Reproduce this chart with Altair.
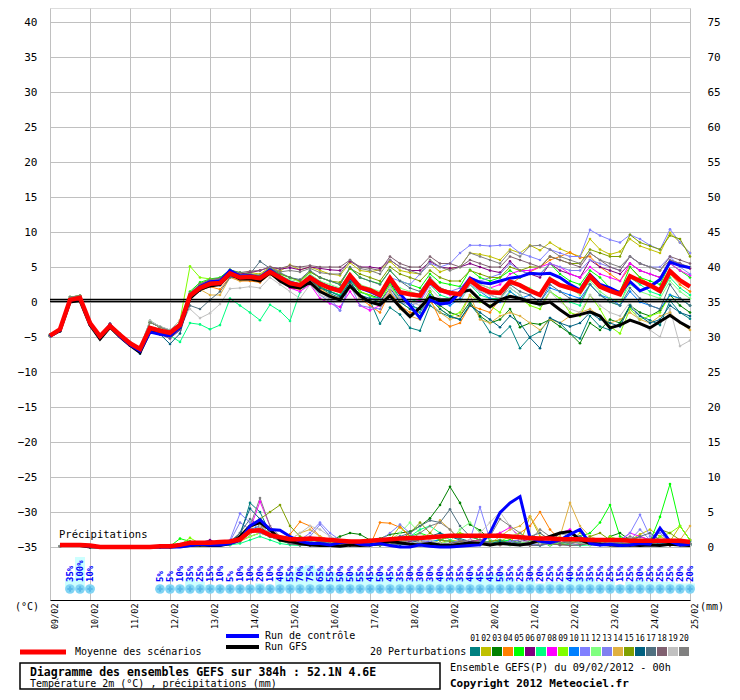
import altair as alt
import pandas as pd

FONT = "DejaVu Sans Mono"

days = ["09/02", "10/02", "11/02", "12/02", "13/02", "14/02", "15/02", "16/02", "17/02",
        "18/02", "19/02", "20/02", "21/02", "22/02", "23/02", "24/02", "25/02"]

members = ["01", "02", "03", "04", "05", "06", "07", "08", "09", "10",
           "11", "12", "13", "14", "15", "16", "17", "18", "19", "20"]
member_colors = ["#008080", "#c0c000", "#008000", "#ff8000", "#00ff00", "#800080", "#00ff80",
                 "#ff00ff", "#80ff00", "#0080ff", "#8080ff", "#80ff80", "#8080f0", "#e0b040",
                 "#80a000", "#006080", "#507080", "#806070", "#c0c0c0", "#808080"]

# ---- 2 m temperature (deg C), 6-hourly, steps 0..64 ----
MEAN_T = [-4.8, -3.9, 0.3, 0.6, -3.0, -4.9, -3.4, -4.7, -5.9, -6.7, -3.7, -4.1, -4.4, -3.3,
          0.9, 2.0, 2.6, 2.7, 4.1, 3.5, 3.6, 3.4, 4.3, 3.5, 2.7, 2.4, 3.5, 2.6, 2.0, 1.6,
          3.8, 2.1, 1.7, 1.0, 3.4, 1.4, 1.1, 0.9, 3.0, 1.7, 1.3, 1.1, 3.1, 2.0, 1.4, 1.3,
          2.9, 2.4, 1.6, 1.0, 3.2, 2.4, 2.0, 1.5, 3.7, 2.2, 1.6, 1.1, 3.7, 3.0, 2.4, 1.6,
          4.4, 3.1, 2.2]
CTRL_T = [-4.9, -4.0, 0.3, 0.5, -3.1, -5.0, -3.3, -4.9, -6.1, -7.0, -4.3, -4.6, -4.8, -3.6,
          0.8, 2.2, 2.9, 3.0, 4.5, 3.7, 3.8, 3.5, 4.6, 3.6, 2.8, 2.4, 3.6, 2.7, 2.1, 1.7,
          3.5, 2.0, 1.5, 0.8, 3.2, 1.2, -0.5, -2.3, 0.3, -0.3, -0.1, 1.4, 3.4, 2.8, 2.6, 3.0,
          3.4, 3.6, 4.1, 4.0, 4.1, 3.5, 2.5, 1.7, 3.9, 2.5, 2.0, 1.3, 2.9, 1.6, 2.2, 3.2,
          5.7, 5.2, 4.9]
GFS_T = [-4.9, -4.1, 0.0, 0.2, -3.3, -5.3, -3.6, -5.0, -6.2, -7.2, -4.2, -4.5, -4.8, -3.6,
         0.5, 1.8, 2.3, 2.5, 4.0, 3.3, 3.3, 3.0, 4.2, 3.0, 2.2, 2.0, 2.8, 1.5, 0.8, 0.3,
         2.3, 0.9, 0.0, -0.4, 0.9, -0.7, -2.1, -0.8, 0.7, 0.3, 0.3, 1.4, 1.7, 0.3, -0.7, 0.3,
         0.8, 0.5, 0.0, -0.3, 0.0, -1.1, -2.1, -1.8, -1.4, -2.0, -3.7, -3.3, -2.6, -3.1, -3.7, -2.8,
         -1.9, -2.9, -3.7]

T01 = [-4.8, -4.0, 0.4, 0.6, -3.0, -5.0, -3.3, -4.8, -6.0, -6.8, -3.6, -4.0, -4.4, -3.3,
       1.2, 2.4, 3.0, 3.1, 4.4, 3.8, 3.7, 3.2, 4.5, 3.6, 2.2, 1.9, 3.2, 2.0, 1.2, 0.6,
       3.0, 0.9, 0.2, -3.1, -0.8, -1.8, -3.7, -4.1, -0.5, -1.5, -2.1, -2.5, -0.3, -2.1, -4.3, -4.9,
       -3.5, -6.6, -5.0, -4.2, -2.3, -3.0, -4.5, -5.2, -2.0, -3.5, -4.0, -3.0, -0.8, -2.0, -2.6, -3.3,
       0.2, -1.5, -2.4]
T02 = [-4.9, -4.1, 0.7, 0.9, -3.1, -4.8, -3.2, -4.6, -5.8, -6.6, -2.9, -3.6, -4.1, -3.0,
       1.0, 2.6, 3.2, 3.4, 4.6, 4.0, 4.2, 4.0, 5.0, 4.4, 5.3, 4.6, 5.0, 4.5, 4.0, 3.8,
       5.6, 4.5, 4.3, 4.6, 5.8, 4.5, 4.2, 4.0, 5.5, 4.3, 4.8, 5.0, 7.0, 6.8, 6.5, 6.0,
       7.5, 7.0, 8.1, 7.4, 8.5, 7.6, 7.0, 6.5, 9.0, 7.5, 6.8, 7.2, 9.0, 8.0, 7.5, 7.0,
       9.9, 8.5, 7.0]
T03 = [-4.7, -3.9, 0.2, 0.4, -2.9, -5.1, -3.5, -4.9, -6.1, -7.0, -4.0, -4.3, -4.8, -3.6,
       0.8, 1.8, 2.4, 2.6, 4.0, 3.3, 3.4, 3.1, 4.0, 3.2, 2.3, 2.0, 3.3, 2.2, 1.5, 1.0,
       3.2, 1.4, 1.0, 0.5, 2.8, 0.5, -0.5, -1.0, 1.5, -0.5, -1.5, -2.0, 0.0, -2.0, -3.0, -2.5,
       -1.0, -3.6, -3.0, -3.2, -2.5, -3.5, -4.5, -5.9, -3.0, -4.0, -2.5, -3.0, -0.5, -1.5, -2.0, -1.2,
       1.0, -0.5, -1.5]
T04 = [-4.8, -4.2, 0.0, 0.7, -3.3, -5.2, -3.1, -4.7, -6.2, -7.2, -4.2, -4.6, -5.0, -4.0,
       0.6, 1.6, 2.2, 1.8, 3.6, 3.0, 3.0, 2.8, 3.9, 3.0, 2.0, 1.8, 3.0, 1.8, 0.8, 0.3,
       2.5, 0.5, -0.5, -1.5, 1.5, -0.5, -1.5, -1.5, 0.5, -2.5, -3.5, -3.0, -0.5, -1.0, -1.5, 0.5,
       2.5, 3.5, 4.3, 5.0, 6.0, 6.5, 7.1, 6.3, 6.5, 5.0, 4.0, 3.0, 5.0, 3.5, 2.5, 1.5,
       4.0, 2.5, 1.5]
T05 = [-4.9, -4.1, 0.7, 0.9, -3.1, -4.8, -3.2, -4.6, -5.8, -6.6, -2.9, -3.6, -4.1, -3.0,
       1.5, 2.8, 3.3, 3.5, 4.6, 4.2, 4.0, 3.8, 4.8, 4.0, 3.5, 3.0, 4.3, 3.5, 3.0, 2.5,
       4.8, 3.5, 3.0, 2.6, 4.5, 3.0, 2.5, 2.0, 4.0, 2.8, 2.5, 2.2, 4.6, 3.5, 3.0, 3.5,
       4.5, 3.5, 4.0, 4.0, 5.5, 4.0, 3.0, 2.5, 4.5, 3.5, 2.0, 1.5, 5.0, 3.5, 3.0, 2.5,
       5.5, 4.5, 3.5]
T06 = [-4.8, -4.0, 0.4, 0.6, -3.0, -5.0, -3.3, -4.8, -6.0, -6.8, -3.6, -4.0, -4.4, -3.3,
       1.2, 2.5, 3.0, 3.2, 4.3, 4.0, 4.2, 4.5, 5.0, 4.7, 4.9, 4.6, 5.0, 4.8, 4.6, 4.5,
       5.8, 5.0, 5.0, 4.8, 6.0, 5.0, 4.5, 4.5, 5.8, 5.0, 4.8, 5.0, 5.5, 5.0, 4.5, 4.2,
       5.8, 4.5, 4.0, 3.5, 5.5, 4.5, 4.0, 3.5, 6.0, 5.0, 4.5, 4.0, 5.5, 4.5, 4.0, 3.5,
       6.0, 5.5, 4.8]
T07 = [-4.7, -3.9, 0.2, 0.4, -2.9, -5.1, -3.5, -4.9, -6.1, -7.0, -4.0, -4.3, -4.8, -5.7,
       -3.0, -3.2, -3.9, -3.3, 0.5, -0.5, -1.5, -2.6, -0.4, -1.3, -2.7, 1.4, 3.0, 2.0, 1.5, 1.0,
       3.2, 1.5, 0.8, 0.5, 2.5, 0.5, 0.0, 0.5, 2.5, 1.0, 0.5, 0.0, 2.5, 1.0, 0.5, 0.5,
       2.0, 1.0, 0.0, -0.5, 1.5, 0.5, 0.0, -0.5, 2.5, 1.0, 0.0, -0.5, 3.5, 2.5, 1.5, 1.0,
       3.5, 2.0, 1.0]
T08 = [-4.8, -4.2, 0.0, 0.7, -3.3, -5.2, -3.1, -4.7, -6.2, -7.2, -4.2, -4.6, -5.2, -4.0,
       0.7, 1.8, 2.5, 2.5, 3.8, 3.2, 3.2, 3.0, 4.0, 3.0, 2.0, 1.5, 2.5, 0.5, -0.2, -0.7,
       1.5, -0.5, -1.2, -0.5, 2.0, 0.5, 0.0, 0.2, 2.5, 1.5, 1.0, 1.2, 3.0, 2.5, 2.0, 2.5,
       4.0, 4.5, 4.5, 5.0, 5.5, 5.0, 4.0, 3.5, 5.0, 4.0, 3.5, 3.0, 5.5, 4.5, 4.0, 3.5,
       5.5, 4.5, 3.8]
T09 = [-4.9, -3.8, 0.5, 0.5, -2.8, -4.9, -3.4, -4.5, -5.7, -6.5, -2.7, -3.5, -4.0, -2.6,
       5.1, 3.5, 3.3, 3.0, 4.2, 3.6, 3.8, 3.5, 4.4, 3.6, 2.8, 2.5, 3.6, 2.5, 2.0, 1.5,
       3.5, 1.5, 1.0, 0.0, 2.5, 0.0, -1.0, -1.5, 1.5, -1.0, -2.0, -1.5, 1.0, 0.0, -0.5, -1.5,
       1.5, 0.5, -0.5, -1.0, 1.5, 0.5, -1.5, -2.0, 1.0, -1.0, -3.5, -4.5, -1.0, -2.5, -2.0, -1.5,
       1.0, 0.5, -0.5]
T10 = [-4.7, -3.9, 0.2, 0.4, -2.9, -5.1, -3.5, -4.9, -6.1, -7.0, -4.0, -4.3, -4.8, -3.6,
       1.0, 2.2, 2.8, 2.9, 4.2, 3.6, 3.7, 3.5, 4.5, 3.7, 3.0, 2.6, 3.8, 2.8, 2.2, 1.8,
       4.0, 2.2, 1.5, 1.0, 3.5, 1.0, 0.0, -1.5, 1.0, 0.0, -0.5, 0.5, 2.5, 1.5, 0.5, 0.0,
       1.5, 0.5, 1.0, 0.0, 2.0, 1.5, 1.0, 0.5, 2.5, 1.0, 0.5, -0.5, 1.5, 0.0, -0.5, -1.0,
       1.0, 0.5, -0.5]
T11 = [-4.9, -4.1, 0.7, 0.9, -3.1, -4.8, -3.2, -4.6, -5.8, -6.6, -2.9, -3.6, -4.1, -3.0,
       0.9, 2.0, 2.7, 2.8, 4.0, 3.4, 3.5, 3.2, 4.2, 3.4, 2.3, 2.0, 3.0, 1.0, 0.0, -1.2,
       2.5, 0.8, 0.5, 0.5, 3.5, 3.0, 2.5, 4.0, 5.5, 5.0, 5.5, 7.0, 8.1, 8.1, 8.0, 8.1,
       8.1, 7.0, 6.5, 6.0, 7.5, 7.0, 6.5, 6.5, 10.3, 9.5, 8.9, 8.5, 9.6, 9.0, 8.1, 7.5,
       10.4, 8.5, 7.0]
T12 = [-4.8, -4.0, 0.4, 0.6, -3.0, -5.0, -3.3, -4.8, -6.0, -6.8, -3.6, -4.0, -4.4, -3.3,
       1.1, 2.2, 2.9, 3.0, 4.2, 3.6, 3.8, 3.6, 4.5, 3.8, 3.2, 2.9, 4.0, 3.0, 2.5, 2.0,
       4.0, 2.5, 2.0, 1.5, 3.5, 2.0, 1.5, 1.0, 3.0, 2.0, 1.5, 1.0, 3.0, 2.5, 2.0, 1.5,
       3.0, 2.5, 2.0, 1.0, 3.5, 2.5, 2.0, 1.0, 3.0, 1.5, 0.5, 0.0, 2.5, 1.5, 1.0, 0.5,
       3.0, 1.5, 0.5]
T13 = [-4.9, -3.8, 0.5, 0.5, -2.8, -4.9, -3.4, -4.5, -5.7, -6.5, -2.7, -3.5, -4.0, -3.0,
       0.8, 2.0, 2.6, 2.7, 4.1, 3.5, 3.5, 3.3, 4.3, 3.4, 2.4, 2.0, 3.3, 1.5, 0.5, -1.2,
       2.5, -0.5, -0.8, -1.0, 1.5, 0.0, -0.5, 0.0, 2.5, 1.5, 1.5, 2.0, 3.5, 3.0, 3.5, 4.0,
       5.5, 4.5, 4.0, 4.0, 5.5, 5.0, 4.5, 4.5, 6.0, 5.5, 5.0, 4.5, 6.5, 5.5, 5.0, 5.0,
       6.5, 5.0, 4.0]
T14 = [-4.7, -3.9, 0.2, 0.4, -2.9, -5.1, -3.5, -4.9, -6.1, -7.0, -4.0, -4.3, -4.8, -3.6,
       0.7, 1.8, 1.0, 1.0, 3.5, 3.0, 3.2, 3.0, 4.0, 3.2, 2.4, 2.0, 3.0, 2.0, 1.0, 0.5,
       2.5, 0.5, 0.0, -0.5, 1.5, -1.0, -2.0, -2.5, 0.0, -1.5, -2.5, -2.0, 1.0, -2.5, -3.0, -2.0,
       -1.5, -2.0, -3.0, -4.0, -2.5, -3.0, -2.0, -1.5, -1.0, -2.0, -3.0, -2.5, -1.5, -2.5, -3.0, -2.0,
       -1.5, -3.0, -4.0]
T15 = [-4.9, -4.1, 0.7, 0.9, -3.1, -4.8, -3.2, -4.6, -5.8, -6.6, -2.9, -3.6, -4.1, -3.0,
       1.0, 2.3, 2.9, 3.0, 4.3, 3.7, 3.8, 3.6, 4.7, 4.0, 3.5, 3.0, 4.3, 3.5, 3.0, 2.8,
       4.8, 4.0, 3.5, 3.0, 5.0, 4.0, 3.5, 3.0, 4.5, 3.5, 3.0, 3.0, 4.5, 4.0, 3.5, 3.5,
       5.0, 4.5, 5.0, 5.0, 6.5, 6.0, 5.5, 5.5, 7.5, 7.0, 6.5, 6.5, 9.6, 8.5, 8.0, 7.5,
       9.5, 9.0, 6.5]
T16 = [-4.8, -4.2, 0.0, 0.7, -3.3, -5.2, -3.1, -4.7, -6.2, -7.4, -4.2, -4.6, -6.0, -4.5,
       0.5, 1.6, 2.3, 2.4, 3.8, 3.3, 3.3, 3.0, 4.0, 3.2, 2.5, 2.0, 3.2, 2.0, 1.5, 0.8,
       2.8, 1.0, 0.5, 0.0, 2.0, 0.0, -1.0, -2.0, 0.5, -1.0, -2.0, -2.5, -0.5, -1.5, -2.5, -3.6,
       -2.0, -3.0, -5.1, -6.6, -2.3, -3.0, -3.5, -3.0, -1.5, -2.5, -3.0, -3.5, -0.5, -2.0, -3.0, -2.5,
       -0.5, -1.5, -2.0]
T17 = [-4.8, -4.2, 0.0, 0.7, -3.3, -5.2, -3.1, -4.7, -6.2, -7.2, -4.2, -4.6, -5.2, -4.0,
       -0.5, -1.0, 0.3, 1.5, 3.5, 3.5, 4.0, 5.8, 4.8, 4.2, 3.5, 3.2, 4.5, 3.5, 3.0, 2.5,
       5.0, 3.5, 3.0, 2.5, 4.5, 3.0, 2.0, 1.5, 3.5, 2.0, 1.5, 1.0, 3.0, 2.0, 1.0, 0.5,
       2.5, 1.5, 1.0, 0.0, 2.5, 1.5, 0.5, 0.0, 2.5, 1.0, 0.0, -0.5, 2.0, 0.5, -0.5, -1.0,
       2.5, 0.5, -0.5]
T18 = [-4.8, -4.0, 0.4, 0.6, -3.0, -5.0, -3.3, -4.8, -6.0, -6.8, -3.6, -4.0, -4.4, -3.3,
       1.3, 2.6, 3.2, 3.4, 4.5, 4.2, 4.4, 4.5, 5.0, 4.8, 5.2, 5.0, 5.2, 5.0, 5.0, 5.0,
       6.0, 5.0, 4.8, 4.5, 6.5, 5.5, 5.0, 5.0, 6.5, 5.5, 5.5, 5.0, 6.0, 5.5, 5.0, 5.0,
       6.5, 6.0, 5.5, 5.0, 6.5, 6.0, 5.5, 5.0, 7.0, 6.0, 5.0, 4.5, 6.5, 5.5, 5.0, 4.5,
       6.5, 6.0, 5.5]
T19 = [-4.9, -3.8, 0.5, 0.5, -2.8, -4.9, -3.4, -4.5, -5.7, -6.5, -2.7, -3.5, -4.0, -2.6,
       -1.0, -2.3, -1.6, -0.3, 1.9, 2.0, 2.2, 2.0, 3.5, 2.5, 1.5, 0.5, 2.5, 1.0, 0.5, 0.2,
       2.0, 0.5, 0.0, -0.5, 2.0, 0.5, 0.0, -0.5, 2.0, 0.5, 0.5, 0.0, 2.5, 1.5, 1.0, 0.5,
       2.0, 1.0, 0.0, -0.5, 1.5, 0.0, -1.0, -1.5, 1.0, -0.5, -1.5, -2.0, 0.0, -3.0, -4.0, -5.0,
       -1.0, -6.3, -5.5]
T20 = [-4.9, -4.1, 0.7, 0.9, -3.1, -4.8, -3.2, -4.6, -5.8, -6.6, -2.9, -3.6, -4.1, -3.0,
       1.2, 2.5, 3.1, 3.2, 4.4, 3.9, 4.0, 3.8, 4.9, 4.3, 4.5, 4.3, 4.8, 4.2, 4.0, 4.0,
       6.0, 4.8, 4.5, 4.0, 6.0, 5.0, 4.5, 4.0, 6.0, 5.0, 4.5, 5.0, 7.0, 6.5, 6.0, 5.5,
       7.2, 6.5, 8.0, 8.1, 7.5, 6.5, 6.0, 5.5, 7.0, 6.0, 5.5, 5.0, 6.5, 5.5, 5.0, 4.5,
       6.0, 5.5, 5.0]

# ---- precipitation (mm), steps 1..64 ----
MEAN_P = [0.3, 0.3, 0.3, 0.2, 0.0, 0.0, 0.0, 0.0, 0.0, 0.0, 0.1, 0.1, 0.3, 0.6, 0.6, 0.6,
          0.7, 0.8, 1.1, 2.3, 2.4, 1.7, 1.4, 1.1, 1.1, 1.2, 1.1, 1.0, 0.9, 0.8, 0.8, 0.9,
          1.0, 1.1, 1.2, 1.3, 1.3, 1.4, 1.5, 1.6, 1.6, 1.6, 1.6, 1.6, 1.6, 1.5, 1.4, 1.3,
          1.2, 1.2, 1.1, 1.1, 1.1, 1.0, 1.0, 1.0, 1.0, 0.9, 0.9, 0.9, 0.9, 0.9, 0.9, 0.7]
CTRL_P = [0.3, 0.3, 0.3, 0.1, 0, 0, 0, 0, 0, 0, 0, 0, 0, 0.2, 0.4, 0.3,
          0.3, 0.5, 1.0, 3.0, 3.9, 2.5, 2.4, 1.5, 0.8, 0.5, 0.5, 0.3, 0.6, 0.8, 0.4, 0.3,
          0.5, 0.2, 0.0, 0.0, 0.3, 0.1, 0.0, 0.0, 0.1, 0.2, 0.3, 2.0, 4.9, 6.3, 7.2, 1.3,
          0.8, 0.6, 1.0, 1.8, 2.5, 0.5, 0.3, 0.4, 0.2, 0.3, 0.5, 0.4, 2.7, 0.8, 0.3, 0.4]
GFS_P = [0.2, 0.3, 0.2, 0.0, 0, 0, 0, 0, 0, 0, 0, 0, 0.1, 0.2, 0.3, 0.2,
         0.2, 0.5, 1.5, 3.0, 3.5, 2.5, 1.0, 0.8, 0.5, 0.3, 0.2, 0.2, 0.1, 0.3, 0.2, 0.3,
         0.5, 0.8, 0.6, 0.4, 0.3, 0.5, 0.3, 0.2, 0.4, 0.6, 0.5, 0.3, 0.5, 0.4, 0.3, 0.5,
         1.0, 1.5, 2.0, 2.2, 1.0, 0.5, 0.4, 0.3, 0.2, 0.3, 0.2, 0.3, 0.2, 0.4, 0.3, 0.2]

P01 = [0.1, 0.3, 0.2, 0, 0, 0, 0, 0, 0, 0, 0, 0.1, 0.2, 0.3, 0.4, 0.3,
       0.2, 0.6, 1.5, 6.3, 5.0, 2.0, 1.0, 0.6, 0.5, 0.3, 0.4, 0.2, 0.5, 0.8, 0.5, 0.3,
       0.2, 0.5, 0.8, 0.5, 0.3, 0.6, 1.0, 1.5, 1.2, 0.8, 0.5, 0.3, 0.5, 0.8, 0.5, 0.3,
       0.2, 0.5, 1.0, 1.8, 1.5, 0.8, 0.5, 0.3, 0.5, 1.0, 1.5, 1.0, 0.5, 0.3, 0.5, 0.8]
P02 = [0.1, 0.2, 0.3, 0, 0, 0, 0, 0, 0, 0, 0, 0, 0.2, 0.3, 0.5, 0.4,
       0.3, 0.5, 1.0, 2.5, 4.0, 2.0, 1.5, 0.8, 0.6, 0.4, 0.3, 0.5, 0.8, 0.5, 0.3, 0.2,
       0.5, 1.0, 3.0, 1.5, 0.8, 0.5, 0.6, 1.0, 0.8, 0.5, 1.0, 1.5, 2.0, 1.0, 0.5, 4.4,
       1.5, 1.0, 0.5, 0.8, 2.0, 1.0, 0.5, 0.3, 0.5, 1.0, 1.8, 2.5, 1.5, 0.8, 3.0, 1.0]
P03 = [0.1, 0.2, 0.2, 0, 0, 0, 0, 0, 0, 0, 0, 0.1, 0.1, 0.2, 0.3, 0.4,
       0.3, 0.5, 1.0, 2.0, 3.0, 1.5, 1.0, 0.5, 0.4, 0.3, 0.5, 1.0, 1.5, 2.0, 1.8, 1.0,
       1.2, 1.8, 2.0, 2.2, 3.0, 4.1, 6.0, 8.6, 6.3, 3.2, 2.4, 1.0, 0.5, 0.3, 0.5, 0.8,
       0.5, 0.3, 0.5, 1.0, 0.8, 0.5, 0.3, 1.5, 2.0, 1.0, 0.5, 0.8, 0.5, 0.3, 0.5, 0.4]
P04 = [0.1, 0.3, 0.2, 0, 0, 0, 0, 0, 0, 0, 0, 0, 0.1, 0.2, 0.3, 0.5,
       0.4, 0.3, 0.8, 1.5, 2.0, 1.5, 1.0, 1.8, 3.6, 3.0, 1.5, 1.0, 0.5, 0.3, 0.3, 0.2,
       3.5, 3.4, 2.8, 1.5, 0.8, 0.5, 0.5, 0.3, 0.5, 0.8, 1.0, 0.5, 0.3, 0.8, 2.0, 3.0,
       5.0, 2.5, 1.0, 0.5, 0.3, 0.5, 0.8, 0.5, 0.3, 0.5, 0.8, 0.5, 0.3, 0.2, 0.5, 0.3]
P05 = [0.1, 0.2, 0.2, 0, 0, 0, 0, 0, 0, 0, 0, 0.1, 1.2, 0.8, 0.5, 0.3,
       0.2, 0.5, 1.0, 2.0, 3.0, 2.5, 1.5, 1.0, 0.5, 0.3, 0.5, 0.8, 0.5, 0.3, 0.5, 1.0,
       0.8, 0.5, 1.0, 1.5, 2.0, 1.5, 1.0, 1.5, 2.0, 1.5, 1.0, 0.5, 0.8, 1.0, 0.5, 0.3,
       0.5, 0.3, 0.5, 1.0, 1.5, 2.0, 3.5, 6.0, 1.5, 1.0, 0.5, 0.8, 4.3, 9.0, 3.0, 1.0]
P06 = [0.1, 0.2, 0.2, 0, 0, 0, 0, 0, 0, 0, 0, 0, 0.2, 0.3, 0.6, 1.0,
       0.5, 0.3, 0.8, 2.0, 3.0, 2.5, 1.5, 0.8, 0.5, 0.3, 0.2, 0.3, 0.5, 0.3, 0.2, 0.3,
       0.5, 0.3, 0.5, 0.8, 1.0, 0.8, 0.5, 0.3, 0.5, 0.8, 0.5, 0.3, 0.5, 0.8, 1.0, 0.8,
       0.5, 0.3, 0.5, 0.8, 0.5, 0.3, 0.5, 0.8, 0.5, 0.3, 0.5, 1.0, 0.8, 0.5, 0.3, 0.5]
P07 = [0.1, 0.2, 0.2, 0, 0, 0, 0, 0, 0, 0, 0, 0, 0.1, 0.2, 0.3, 0.2,
       0.2, 0.3, 0.5, 1.0, 1.5, 1.0, 0.5, 0.3, 0.2, 0.3, 0.5, 0.3, 0.2, 0.3, 0.5, 0.3,
       0.5, 0.8, 1.0, 1.5, 2.5, 3.0, 2.0, 1.0, 0.5, 0.3, 0.5, 0.8, 1.0, 0.8, 0.5, 0.3,
       0.5, 0.3, 0.5, 0.3, 0.2, 0.3, 0.5, 0.3, 0.5, 0.8, 1.0, 0.5, 0.3, 0.5, 0.3, 0.2]
P08 = [0.1, 0.2, 0.3, 0, 0, 0, 0, 0, 0, 0, 0, 0, 0.1, 0.2, 0.3, 0.5,
       0.3, 0.5, 1.0, 2.5, 6.5, 3.0, 1.0, 0.5, 0.3, 0.5, 0.3, 0.2, 0.5, 0.3, 0.5, 0.8,
       1.0, 0.8, 0.5, 0.3, 0.5, 0.8, 0.5, 0.3, 0.5, 0.8, 1.0, 1.5, 2.0, 2.8, 1.5, 1.0,
       0.5, 1.0, 2.0, 2.5, 1.0, 0.5, 0.3, 0.5, 0.8, 2.0, 1.5, 1.0, 0.5, 0.3, 0.5, 1.0]
P09 = [0.1, 0.2, 0.2, 0, 0, 0, 0, 0, 0, 0, 0, 0, 0.3, 1.3, 0.5, 0.3,
       0.2, 0.5, 1.0, 1.5, 2.0, 1.5, 1.0, 0.5, 0.3, 0.5, 0.8, 0.5, 0.3, 0.5, 0.3, 0.2,
       0.3, 0.5, 0.8, 1.0, 0.8, 0.5, 1.0, 1.5, 2.0, 1.5, 1.0, 0.5, 0.8, 1.5, 2.0, 1.0,
       0.5, 0.3, 0.5, 0.8, 1.0, 0.5, 0.3, 1.5, 1.0, 0.5, 0.3, 0.5, 1.5, 2.0, 3.0, 1.0]
P10 = [0.1, 0.2, 0.2, 0, 0, 0, 0, 0, 0, 0, 0, 0, 0.1, 0.2, 0.4, 0.3,
       0.2, 0.5, 1.5, 2.5, 3.0, 2.0, 1.0, 0.5, 0.5, 0.8, 1.0, 0.5, 0.3, 0.5, 0.8, 0.5,
       0.5, 0.8, 1.5, 1.0, 0.5, 0.8, 1.0, 0.8, 0.5, 0.3, 0.5, 0.8, 1.0, 0.5, 0.3, 0.5,
       0.8, 0.5, 0.3, 0.5, 0.8, 0.5, 0.3, 0.5, 0.3, 0.5, 0.8, 1.0, 0.5, 0.3, 0.5, 0.3]
P11 = [0.1, 0.2, 0.3, 0, 0, 0, 0, 0, 0, 0, 0, 0, 0.2, 0.3, 0.5, 0.5,
       0.8, 1.0, 4.8, 3.5, 2.5, 1.5, 1.0, 0.8, 1.0, 2.0, 3.5, 2.0, 1.0, 0.5, 0.3, 0.5,
       0.8, 1.0, 1.5, 1.2, 1.0, 0.8, 0.5, 0.3, 0.5, 1.0, 5.7, 1.0, 0.5, 0.8, 0.5, 0.3,
       0.5, 0.8, 1.0, 0.5, 0.3, 0.5, 0.3, 0.5, 1.0, 2.0, 4.6, 1.5, 2.0, 0.5, 0.3, 0.5]
P12 = [0.1, 0.2, 0.2, 0, 0, 0, 0, 0, 0, 0, 0, 0, 0.1, 0.2, 0.3, 0.2,
       0.3, 0.5, 1.0, 1.5, 2.0, 1.5, 0.8, 0.5, 0.3, 0.2, 0.5, 0.3, 0.5, 0.3, 0.2, 0.3,
       0.5, 1.0, 2.0, 3.5, 2.0, 1.0, 0.5, 0.8, 2.5, 3.5, 2.0, 1.0, 0.5, 0.3, 0.5, 0.8,
       0.5, 0.3, 0.5, 0.8, 0.5, 0.3, 0.5, 1.0, 0.8, 0.5, 0.3, 0.5, 0.8, 0.5, 0.3, 0.2]
P13 = [0.1, 0.2, 0.2, 0, 0, 0, 0, 0, 0, 0, 0, 0, 0.1, 0.3, 0.5, 0.4,
       0.3, 0.8, 3.5, 2.5, 2.0, 1.5, 1.0, 0.8, 0.5, 1.5, 3.2, 1.5, 0.8, 0.5, 0.3, 0.5,
       1.0, 2.0, 3.2, 2.0, 1.0, 0.5, 0.3, 0.5, 1.0, 0.8, 0.5, 0.3, 0.5, 0.8, 1.0, 0.5,
       0.3, 0.5, 1.0, 2.0, 1.5, 0.8, 0.5, 0.3, 0.5, 1.0, 2.5, 1.0, 0.5, 0.3, 0.5, 0.3]
P14 = [0.1, 0.3, 0.2, 0, 0, 0, 0, 0, 0, 0, 0, 0, 0.2, 0.3, 0.5, 0.4,
       0.3, 0.5, 1.0, 2.0, 3.0, 2.5, 1.5, 1.0, 2.0, 2.5, 1.5, 1.0, 0.5, 0.3, 0.5, 0.3,
       0.5, 1.0, 0.8, 0.5, 1.0, 2.0, 3.8, 2.5, 1.0, 0.5, 0.3, 0.5, 1.5, 2.5, 3.0, 4.4,
       2.0, 1.0, 1.5, 6.3, 3.0, 1.5, 1.0, 0.5, 0.3, 0.5, 0.8, 0.5, 0.3, 0.5, 1.0, 3.0]
P15 = [0.1, 0.2, 0.2, 0, 0, 0, 0, 0, 0, 0, 0, 0.1, 0.1, 0.2, 0.3, 0.3,
       0.2, 0.5, 1.5, 3.0, 4.0, 5.0, 6.0, 3.0, 1.5, 1.0, 0.8, 0.5, 0.3, 0.5, 0.8, 0.5,
       0.3, 0.5, 1.0, 2.0, 3.5, 2.0, 1.0, 0.8, 0.5, 0.3, 0.5, 0.8, 1.0, 0.5, 0.3, 0.5,
       0.8, 0.5, 0.3, 0.5, 1.0, 1.5, 2.0, 1.0, 0.5, 0.3, 0.5, 1.0, 2.5, 2.0, 1.0, 0.5]
P16 = [0.1, 0.2, 0.2, 0, 0, 0, 0, 0, 0, 0, 0, 0, 0.1, 0.2, 0.3, 0.3,
       0.3, 0.5, 2.0, 5.5, 4.0, 2.0, 1.0, 0.5, 0.3, 0.5, 0.8, 0.5, 0.3, 0.5, 0.8, 1.0,
       0.8, 0.5, 0.3, 0.5, 1.0, 1.5, 2.0, 1.5, 1.0, 0.5, 0.3, 0.5, 0.8, 0.5, 0.3, 0.5,
       0.5, 0.8, 2.0, 1.5, 1.0, 0.5, 0.3, 0.5, 0.8, 1.0, 0.5, 0.3, 0.5, 0.3, 0.5, 0.3]
P17 = [0.1, 0.2, 0.3, 0, 0, 0, 0, 0, 0, 0, 0, 0, 0.2, 0.3, 0.5, 0.6,
       0.5, 0.8, 2.0, 4.0, 3.0, 1.5, 1.0, 0.5, 0.3, 0.5, 0.8, 0.5, 0.3, 0.5, 0.3, 0.5,
       0.8, 1.0, 1.5, 2.0, 3.0, 3.8, 3.5, 5.4, 3.0, 1.5, 1.0, 0.5, 0.3, 0.5, 0.8, 1.5,
       2.0, 1.0, 0.5, 0.8, 1.5, 0.8, 0.5, 0.3, 0.5, 1.0, 1.5, 2.0, 1.0, 0.5, 0.3, 0.5]
P18 = [0.1, 0.2, 0.2, 0, 0, 0, 0, 0, 0, 0, 0, 0, 0.2, 0.5, 0.6, 0.5,
       0.3, 0.5, 1.0, 2.0, 2.5, 1.5, 1.0, 0.5, 0.3, 0.2, 0.3, 0.5, 0.3, 0.2, 0.3, 0.5,
       0.3, 0.5, 0.8, 1.0, 0.8, 0.5, 0.3, 0.5, 0.8, 1.0, 0.8, 0.5, 0.3, 0.5, 0.3, 0.2,
       0.3, 0.5, 0.3, 0.2, 0.3, 0.5, 0.8, 0.5, 0.3, 0.2, 0.3, 0.5, 0.3, 0.2, 0.3, 0.2]
P19 = [0.1, 0.2, 0.2, 0, 0, 0, 0, 0, 0, 0, 0, 0, 0.1, 0.2, 0.3, 0.3,
       0.2, 0.5, 1.5, 2.0, 3.0, 2.0, 1.5, 1.0, 2.0, 3.0, 2.5, 1.5, 1.0, 0.5, 0.3, 0.5,
       0.8, 1.0, 0.8, 0.5, 0.8, 1.0, 0.5, 0.3, 0.5, 1.0, 2.0, 3.5, 5.0, 3.0, 1.0, 0.5,
       0.5, 1.0, 2.0, 1.5, 0.8, 0.5, 0.3, 0.5, 0.8, 0.5, 0.3, 0.5, 0.8, 0.5, 0.3, 0.2]
P20 = [0.1, 0.2, 0.2, 0, 0, 0, 0, 0, 0, 0, 0, 0, 0.2, 0.3, 0.5, 0.4,
       0.3, 0.5, 1.0, 3.0, 7.0, 3.0, 1.5, 1.0, 0.5, 0.8, 1.0, 0.5, 0.3, 0.5, 0.3, 0.5,
       0.5, 0.3, 0.5, 1.0, 2.0, 3.0, 3.5, 2.5, 1.0, 0.5, 0.8, 1.5, 4.0, 3.0, 2.0, 1.0,
       2.5, 1.5, 1.0, 0.5, 0.8, 0.5, 0.3, 0.5, 0.8, 1.5, 1.0, 0.5, 0.3, 0.5, 0.8, 0.5]

# ---- probability of precipitation (%) and the steps where it is shown ----
prob_steps = [2, 3, 4] + list(range(11, 65))
prob_values = [35, 100, 10,
               5, 5, 10, 35, 25, 15, 10, 5, 10, 10, 20, 10, 40,
               55, 70, 75, 65, 55, 50, 50, 55, 45, 50, 45, 35, 30, 30, 30, 40,
               35, 35, 40, 45, 45, 50, 35, 25, 30, 20, 25, 25, 40, 35, 35, 25,
               25, 15, 25, 30, 25, 25, 25, 20, 20]

pert_T = [T01, T02, T03, T04, T05, T06, T07, T08, T09, T10,
          T11, T12, T13, T14, T15, T16, T17, T18, T19, T20]
pert_P = [P01, P02, P03, P04, P05, P06, P07, P08, P09, P10,
          P11, P12, P13, P14, P15, P16, P17, P18, P19, P20]
for arr in pert_T + [MEAN_T, CTRL_T, GFS_T]:
    assert len(arr) == 65, len(arr)
for arr in pert_P + [MEAN_P, CTRL_P, GFS_P]:
    assert len(arr) == 64, len(arr)
assert len(prob_steps) == len(prob_values)

PRECIP_ZERO = -35  # 0 mm sits on the -35 deg C line (right axis = left axis + 35)


def series_rows(name, temps, precs):
    rows = []
    for s, v in enumerate(temps):
        rows.append({"member": name, "kind": "t", "step": s, "y": v})
    for s, v in enumerate(precs, start=1):
        rows.append({"member": name, "kind": "p", "step": s, "y": v + PRECIP_ZERO})
    return rows


pert_rows = []
for m, t, p in zip(members, pert_T, pert_P):
    pert_rows += series_rows(m, t, p)
pert_df = pd.DataFrame(pert_rows)
mean_df = pd.DataFrame(series_rows("mean", MEAN_T, MEAN_P))
ctrl_df = pd.DataFrame(series_rows("ctrl", CTRL_T, CTRL_P))
gfs_df = pd.DataFrame(series_rows("gfs", GFS_T, GFS_P))

prob_df = pd.DataFrame({"step": prob_steps, "p": prob_values})
prob_df["x0"] = prob_df["step"] - 0.5
prob_df["x1"] = prob_df["step"] + 0.5
prob_df["top"] = 582 - prob_df["p"] * 0.33
prob_df["lab"] = prob_df["p"].astype(str) + "%"

leg_df = pd.DataFrame({"member": members, "k": list(range(len(members)))})
leg_df["lx"] = 420 + leg_df["k"] * 11
leg_df["lx2"] = leg_df["lx"] + 10
leg_df["lc"] = leg_df["lx"] + 5

zero_df = pd.DataFrame({"y": [0.36, 0.07]})

# ---- scales and axes ----
xs = alt.Scale(domain=[0, 64], nice=False, zero=False)
ys = alt.Scale(domain=[-42.571, 42.0], nice=False, zero=False)
day_expr = "[" + ",".join("'%s'" % d for d in days) + "][round(datum.value/4)]"

x_axis = alt.Axis(values=list(range(0, 65, 4)), labelExpr=day_expr, title=None, ticks=False,
                  domain=True, domainColor="black", domainWidth=1, grid=True, gridColor="#c0c0c0",
                  labelAngle=270, labelAlign="right", labelBaseline="top", labelPadding=3,
                  labelFont=FONT, labelFontSize=8.5, labelColor="black", labelOverlap=False,
                  labelBound=False, labelFlush=False)
left_axis = alt.Axis(values=list(range(-35, 45, 5)), title=None, ticks=False, domain=False,
                     grid=True, gridColor="#c0c0c0", labelFont=FONT, labelFontSize=11,
                     labelColor="black", labelPadding=13)
right_axis = alt.Axis(orient="right", values=list(range(-35, 45, 5)), labelExpr="datum.value + 35",
                      title=None, ticks=False, domain=False, grid=False, labelFont=FONT,
                      labelFontSize=11, labelColor="black", labelPadding=17, labelAlign="left")

X = alt.X("step:Q", scale=xs, axis=x_axis)
Y = alt.Y("y:Q", scale=ys, axis=left_axis)
color_scale = alt.Scale(domain=members, range=member_colors)

bars = alt.Chart(prob_df).mark_rect(color="#ccffff").encode(
    x=alt.X("x0:Q", scale=xs, axis=x_axis), x2="x1:Q",
    y=alt.Y("top:Q", scale=None), y2=alt.value(582))
icons = alt.Chart(prob_df).mark_point(shape="circle", filled=True, size=95, color="#80d4f4",
                                      opacity=1).encode(x=X, y=alt.value(581))
icons2 = alt.Chart(prob_df).mark_point(shape="cross", filled=True, size=28, color="#4fb2e6",
                                       opacity=0.8).encode(x=X, y=alt.value(581))
prob_text = alt.Chart(prob_df).mark_text(angle=270, align="left", baseline="middle", font=FONT,
                                         fontSize=9, fontWeight="bold", color="#0000ff").encode(
    x=X, y=alt.value(574), text="lab:N")

pert = alt.Chart(pert_df).mark_line(strokeWidth=1, point=alt.OverlayMarkDef(filled=True, size=7)).encode(
    x=X, y=Y, color=alt.Color("member:N", scale=color_scale, legend=None), detail="kind:N")
zero_lines = alt.Chart(zero_df).mark_rule(color="black", strokeWidth=1.3).encode(y=Y)
gfs = alt.Chart(gfs_df).mark_line(color="black", strokeWidth=3).encode(x=X, y=Y, detail="kind:N")
ctrl = alt.Chart(ctrl_df).mark_line(color="#0000ff", strokeWidth=3).encode(x=X, y=Y, detail="kind:N")
mean = alt.Chart(mean_df).mark_line(color="#ff0000", strokeWidth=4.5).encode(x=X, y=Y, detail="kind:N")


def txt(s, x, y, size=10, weight="normal", align="left", color="black"):
    return alt.Chart(alt.Data(values=[{}])).mark_text(
        text=s, align=align, baseline="middle", font=FONT, fontSize=size,
        fontWeight=weight, color=color).encode(x=alt.value(x), y=alt.value(y))


def hline(x1, x2, y, color, w):
    return alt.Chart(alt.Data(values=[{}])).mark_rule(color=color, strokeWidth=w).encode(
        x=alt.value(x1), x2=alt.value(x2), y=alt.value(y))


legend_sw = alt.Chart(leg_df).mark_rect().encode(
    x=alt.X("lx:Q", scale=None), x2="lx2:Q", y=alt.value(639), y2=alt.value(648),
    color=alt.Color("member:N", scale=color_scale, legend=None))
legend_num = alt.Chart(leg_df).mark_text(font=FONT, fontSize=8, baseline="middle", align="center",
                                         color="black").encode(
    x=alt.X("lc:Q", scale=None), y=alt.value(631), text="member:N")
box = alt.Chart(alt.Data(values=[{}])).mark_rect(fill="white", stroke="black", strokeWidth=1.5).encode(
    x=alt.value(-30), x2=alt.value(390), y=alt.value(655), y2=alt.value(681))

annotations = [
    txt("Précipitations", 9, 527, size=10.5),
    txt("(°C)", -35, 599, size=10),
    txt("(mm)", 650, 599, size=10),
    hline(-30, 16, 644, "#ff0000", 5),
    txt("Moyenne des scénarios", 25, 644, size=10),
    hline(176, 209, 628, "#0000ff", 4),
    txt("Run de contrôle", 215, 628, size=10),
    hline(176, 209, 639, "black", 4),
    txt("Run GFS", 215, 639, size=10),
    txt("20 Perturbations", 320, 644, size=10),
    legend_sw, legend_num, box,
    txt("Diagramme des ensembles GEFS sur 384h : 52.1N 4.6E", -20, 665, size=11.5, weight="bold"),
    txt("Température 2m (°C) , précipitations (mm)", -20, 676, size=10),
    txt("Ensemble GEFS(P) du 09/02/2012 - 00h", 400, 660, size=10.2),
    txt("Copyright 2012 Meteociel.fr", 400, 676, size=11, weight="bold"),
]

main = alt.layer(bars, icons, icons2, prob_text, pert, zero_lines, gfs, ctrl, mean, *annotations)
right = alt.Chart(zero_df).mark_rule(opacity=0).encode(y=alt.Y("y:Q", scale=ys, axis=right_axis))

chart = alt.layer(main, right).resolve_scale(y="independent").properties(
    width=640, height=592,
    autosize=alt.AutoSizeParams(type="none"),
    padding={"left": 42, "top": 0, "right": 40, "bottom": 90},
).configure_view(stroke=None).configure(background="white")

chart.save("out.html", embed_options={"renderer": "svg", "actions": False})
